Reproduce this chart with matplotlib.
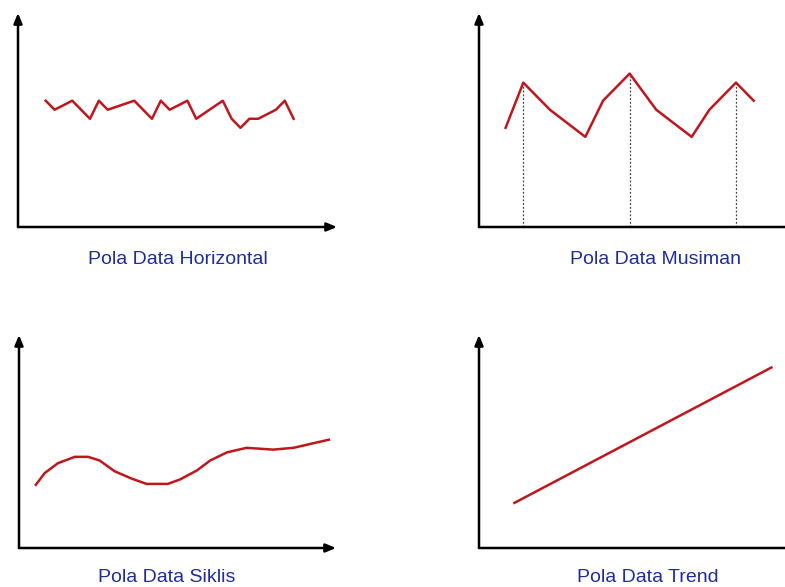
import matplotlib
matplotlib.use('Agg')
import matplotlib.pyplot as plt

plt.rcParams['font.family'] = ['Liberation Sans', 'DejaVu Sans']

# ---------- data ----------
# horizontal pattern
horiz_x = [0, 1, 3, 5, 6, 7, 10, 12, 13, 14, 16, 17, 20, 21, 22, 23, 24, 26, 27, 28]
horiz_y = [3, 2, 3, 1, 3, 2, 3, 1, 3, 2, 3, 1, 3, 1, 0, 1, 1, 2, 3, 1]

# seasonal pattern
season_x = [0, 2, 5, 9, 11, 14, 17, 21, 23, 26, 28]
season_y = [1, 6, 3, 0, 4, 7, 3, 0, 3, 6, 4]
season_peaks = [2, 14, 26]

# cyclic pattern
cycle_x = [1.9, 2.9, 4.4, 6.3, 7.8, 9.1, 10.8, 12.7, 14.4, 16.8, 18.2, 20.1,
           21.6, 23.5, 25.7, 28.7, 31.0, 33.2, 35.0]
cycle_y = [7.0, 8.3, 9.4, 10.1, 10.1, 9.7, 8.5, 7.7, 7.1, 7.1, 7.6, 8.6,
           9.7, 10.6, 11.1, 10.9, 11.1, 11.6, 12.0]

# trend pattern
trend_x = [4, 33]
trend_y = [5, 20]

titles = ['Pola Data Horizontal', 'Pola Data Musiman', 'Pola Data Siklis', 'Pola Data Trend']

red = '#c0161c'
blue = '#1f2d9f'

W, H = 785, 587
fig = plt.figure(figsize=(W / 100, H / 100), dpi=100)


def panel(left, bottom, right, top, xlim, ylim):
    # pixel box -> figure fraction
    ax = fig.add_axes([left / W, 1 - bottom / H, (right - left) / W, (bottom - top) / H])
    ax.set_xlim(*xlim)
    ax.set_ylim(*ylim)
    ax.axis('off')
    arrow = dict(arrowstyle='-|>,head_length=0.6,head_width=0.25', color='black',
                 lw=1.8, shrinkA=0, shrinkB=0)
    ax.annotate('', xy=(1, 0), xytext=(0, 0), xycoords='axes fraction',
                arrowprops=arrow, annotation_clip=False)
    ax.annotate('', xy=(0, 1), xytext=(0, 0), xycoords='axes fraction',
                arrowprops=arrow, annotation_clip=False)
    return ax


# top left
ax1 = panel(18, 227, 337, 13, (-3.13, 32.9), (-10.97, 12.7))
ax1.plot(horiz_x, horiz_y, color=red, lw=1.8)
fig.text(178 / W, 1 - 259 / H, titles[0], color=blue, fontsize=14, ha='center', va='center')

# top right
ax2 = panel(479, 227, 798, 13, (-3.0, 33.0), (-9.97, 13.7))
ax2.plot(season_x, season_y, color=red, lw=1.8)
for p in season_peaks:
    ax2.plot([p, p], [ax2.get_ylim()[0], season_y[season_x.index(p)]],
             color='#444444', lw=0.9, ls=(0, (1.5, 1.5)), zorder=1)
fig.text(656 / W, 1 - 259 / H, titles[1], color=blue, fontsize=14, ha='center', va='center')

# bottom left
ax3 = panel(19, 548, 336, 335, (0, 35.8), (0, 23.6))
ax3.plot(cycle_x, cycle_y, color=red, lw=1.8, solid_joinstyle='round')
fig.text(167 / W, 1 - 578 / H, titles[2], color=blue, fontsize=14, ha='center', va='center')

# bottom right
ax4 = panel(479, 548, 798, 335, (0, 36), (0, 23.6))
ax4.plot(trend_x, trend_y, color=red, lw=1.8)
fig.text(648 / W, 1 - 578 / H, titles[3], color=blue, fontsize=14, ha='center', va='center')

fig.savefig('out.png', dpi=100)
